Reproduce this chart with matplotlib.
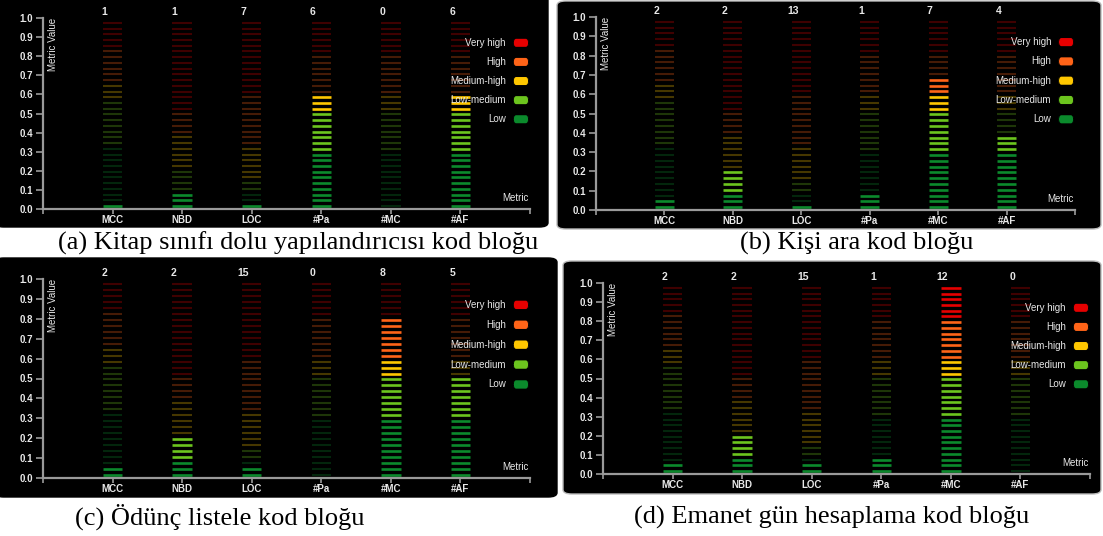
import numpy as np
import matplotlib
matplotlib.use("Agg")
import matplotlib.pyplot as plt
from matplotlib.patches import FancyBboxPatch

# metric names and the raw values shown above each column
metrics = ["MCC", "NBD", "LOC", "#Pa", "#MC", "#AF"]
values_a = [1, 1, 7, 6, 0, 6]
values_b = [2, 2, 13, 1, 7, 4]
values_c = [2, 2, 15, 0, 8, 5]
values_d = [2, 2, 15, 1, 12, 0]

# value that fills a column, and the level limits of each metric
metric_max = [30, 10, 300, 10, 10, 10]
thresholds = [
    [10, 17, 20, 25],
    [1, 2, 4, 5],
    [30, 45, 100, 180],
    [3, 5, 6, 8],
    [3, 5, 6, 8],
    [3, 5, 6, 8],
]

levels = ["Low", "Low-medium", "Medium-high", "High", "Very high"]
level_colors = ["#0b8a2c", "#6cc51e", "#ffc700", "#ff6418", "#e60000"]

captions = [
    "(a) Kitap sınıfı dolu yapılandırıcısı kod bloğu",
    "(b) Kişi ara kod bloğu",
    "(c) Ödünç listele kod bloğu",
    "(d) Emanet gün hesaplama kod bloğu",
]

W, H = 1103, 536
fig = plt.figure(figsize=(W / 100, H / 100), dpi=100)
fig.patch.set_facecolor("white")

TXT = "#e8e8e8"
AXC = "#9a9a9a"
FONT = "Liberation Sans"


def px_rect(x0, y0, x1, y1):
    return [x0 / W, 1 - y1 / H, (x1 - x0) / W, (y1 - y0) / H]


def background(x0, y0, x1, y1, edge):
    r = px_rect(x0, y0, x1, y1)
    p = FancyBboxPatch((r[0], r[1]), r[2], r[3],
                       boxstyle="round,pad=0,rounding_size=0.008",
                       transform=fig.transFigure, facecolor="black",
                       edgecolor=edge, linewidth=1.0, zorder=-10)
    fig.patches.append(p)


def panel(rect, values):
    ax = fig.add_axes(rect)
    ax.set_facecolor("none")
    ax.set_xlim(0, 7)
    ax.set_ylim(0, 1)
    dash_y = 0.015 + 0.03 * np.arange(33)
    for k, (name, v) in enumerate(zip(metrics, values)):
        x = k + 1
        fill = v / metric_max[k]
        lv = np.searchsorted(thresholds[k], dash_y * metric_max[k], side="right")
        for y, l in zip(dash_y, lv):
            lit = y <= fill
            ax.hlines(y, x - 0.14, x + 0.14, colors=level_colors[l],
                      alpha=1.0 if lit else 0.28, linewidth=1.9 if lit else 1.5)
        ax.text(x - 0.12, 1.03, str(v), color=TXT, fontsize=7.5,
                ha="center", va="center", family=FONT, fontweight="bold",
                clip_on=False)

    # legend
    for j, (name, c) in enumerate(zip(levels[::-1], level_colors[::-1])):
        yy = 0.87 - 0.1 * j
        ax.text(6.65, yy, name, color=TXT, fontsize=7, ha="right", va="center",
                family=FONT, zorder=5)
        sw = FancyBboxPatch((6.76, yy - 0.021), 0.22, 0.042,
                            boxstyle="round,pad=0,rounding_size=0.04",
                            facecolor=c, edgecolor="none", zorder=5)
        ax.add_patch(sw)

    ax.text(0.14, 1.0, "Metric Value", rotation=90, color=TXT, fontsize=7,
            ha="center", va="top", family=FONT)
    ax.text(6.98, 0.03, "Metric", color=TXT, fontsize=7, ha="right",
            va="bottom", family=FONT)

    for s in ["top", "right"]:
        ax.spines[s].set_visible(False)
    for s in ["left", "bottom"]:
        ax.spines[s].set_color(AXC)
        ax.spines[s].set_linewidth(1.6)
    ax.set_yticks(np.round(np.arange(0, 1.01, 0.1), 1))
    ax.set_yticklabels([f"{t:.1f}" for t in np.arange(0, 1.01, 0.1)])
    ax.set_xticks(range(8))
    ax.set_xticklabels([""] + metrics + [""])
    ax.tick_params(axis="y", colors=AXC, labelcolor=TXT, labelsize=7,
                   length=5, width=1.2, pad=2)
    ax.tick_params(axis="x", colors=AXC, labelcolor=TXT, labelsize=7,
                   length=3.5, width=1.2, pad=1)
    for lab in ax.get_xticklabels() + ax.get_yticklabels():
        lab.set_family(FONT)
        lab.set_fontweight("bold")
    return ax


background(-5, -5, 548, 227, "black")
background(557, 1, 1101, 229, "#bbbbbb")
background(-5, 258, 557, 497, "black")
background(563, 261, 1101, 494, "#bbbbbb")

panel(px_rect(43, 18, 530, 209), values_a)
panel(px_rect(596, 17, 1075, 210), values_b)
panel(px_rect(43, 279, 530, 478), values_c)
panel(px_rect(603, 283, 1090, 474), values_d)

cap_pos = [(298, 243), (857, 243), (220, 517), (832, 517)]
for (cx, cy), cap in zip(cap_pos, captions):
    fig.text(cx / W, 1 - cy / H, cap, ha="center", va="center",
             fontsize=19, family="Liberation Serif", color="black")

fig.savefig("out.png", dpi=100, facecolor="white")
